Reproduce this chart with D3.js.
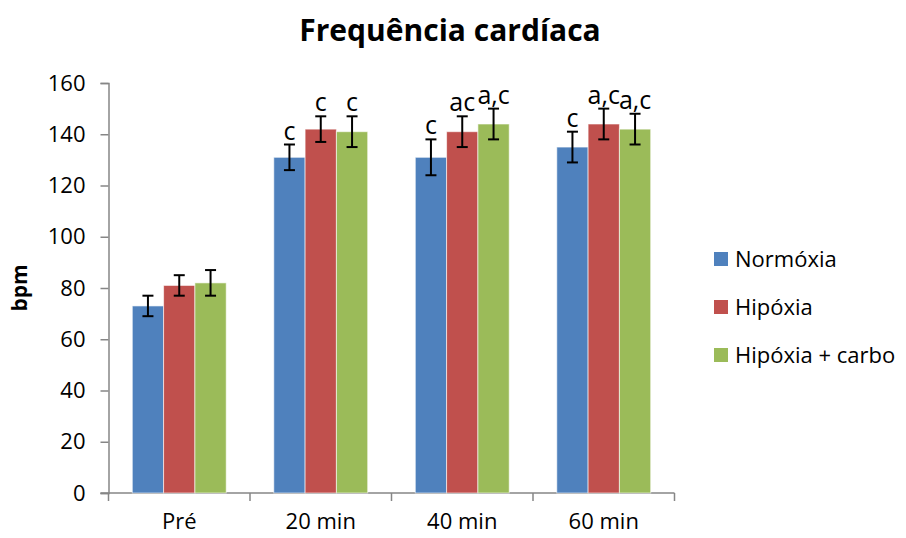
<!DOCTYPE html>
<html>
<head>
<meta charset="utf-8">
<script src="https://cdn.jsdelivr.net/npm/d3@7"></script>
<style>
  body { margin: 0; background: #fff; }
  text { font-family: "Open Sans", sans-serif; fill: #000; }
</style>
</head>
<body>
<div id="chart"></div>
<script>
// Chart data.
const categories = ['Pré', '20 min', '40 min', '60 min'];
const seriesNames = ['Normóxia', 'Hipóxia', 'Hipóxia + carbo'];
const normoxia = [73, 131, 131, 135];
const hipoxia = [81, 142, 141, 144];
const hipoxiaCarbo = [82, 141, 144, 142];
const normoxiaErr = [4, 5, 7, 6];
const hipoxiaErr = [4, 5, 6, 6];
const hipoxiaCarboErr = [5, 6, 6, 6];
const normoxiaMarks = ['', 'c', 'c', 'c'];
const hipoxiaMarks = ['', 'c', 'ac', 'a,c'];
const hipoxiaCarboMarks = ['', 'c', 'a,c', 'a,c'];
const yTicks = [0, 20, 40, 60, 80, 100, 120, 140, 160];
const colors = ['#4F81BD', '#C0504D', '#9BBB59'];

const width = 906, height = 538;
const plot = {left: 108.5, right: 674.5, top: 83, bottom: 493};

const values = [normoxia, hipoxia, hipoxiaCarbo];
const errors = [normoxiaErr, hipoxiaErr, hipoxiaCarboErr];
const marks = [normoxiaMarks, hipoxiaMarks, hipoxiaCarboMarks];

const svg = d3.select('#chart').append('svg')
    .attr('width', width)
    .attr('height', height);

// Scales.
const x = d3.scaleBand()
    .domain(categories)
    .range([plot.left, plot.right]);
const xInner = d3.scaleBand()
    .domain(d3.range(seriesNames.length))
    .range([0, x.bandwidth()])
    .paddingOuter(0.76);
const y = d3.scaleLinear()
    .domain([0, 160])
    .range([plot.bottom, plot.top]);

// Title.
svg.append('text')
    .attr('x', 450)
    .attr('y', 41)
    .attr('text-anchor', 'middle')
    .style('font-size', '30px')
    .style('font-weight', 'bold')
    .text('Frequência cardíaca');

// Y axis.
const yAxis = svg.append('g')
    .attr('transform', 'translate(' + plot.left + ',0)')
    .call(d3.axisLeft(y).tickValues(yTicks).tickSize(8).tickPadding(15));
yAxis.selectAll('text').style('font-size', '22px');

// X axis.
const xAxis = svg.append('g')
    .attr('transform', 'translate(0,' + plot.bottom + ')')
    .call(d3.axisBottom(x).tickSize(0).tickPadding(20));
xAxis.selectAll('text').style('font-size', '22px');
xAxis.selectAll('.tick-mark')
    .data(d3.range(categories.length + 1))
    .enter()
    .append('line')
    .attr('x1', function (i) {return plot.left + i * x.step();})
    .attr('x2', function (i) {return plot.left + i * x.step();})
    .attr('y1', 0)
    .attr('y2', 8);
xAxis.select('.domain').attr('d', 'M' + (plot.left - 8) + ',0H' + plot.right);
svg.selectAll('.domain, .tick line, g line').attr('stroke', '#868686').attr('stroke-width', 1.5);

// Y axis title.
svg.append('text')
    .attr('transform', 'translate(27,288)rotate(-90)')
    .attr('text-anchor', 'middle')
    .style('font-size', '21px')
    .style('font-weight', 'bold')
    .text('bpm');

// Bars, error bars and labels for each series.
values.forEach(function (series, s) {
    const g = svg.append('g');
    g.selectAll('rect')
        .data(series)
        .enter()
        .append('rect')
        .attr('x', function (d, i) {return x(categories[i]) + xInner(s);})
        .attr('y', function (d) {return y(d);})
        .attr('width', xInner.bandwidth())
        .attr('height', function (d) {return y(0) - y(d);})
        .attr('fill', colors[s])
        .attr('stroke', '#ffffff')
        .attr('stroke-opacity', 0.6)
        .attr('stroke-width', 1);

    const cx = function (i) {return x(categories[i]) + xInner(s) + xInner.bandwidth() / 2;};
    const err = g.selectAll('.err')
        .data(series)
        .enter()
        .append('g')
        .attr('stroke', '#000')
        .attr('stroke-width', 2);
    err.append('line')
        .attr('x1', function (d, i) {return cx(i);})
        .attr('x2', function (d, i) {return cx(i);})
        .attr('y1', function (d, i) {return y(d + errors[s][i]);})
        .attr('y2', function (d, i) {return y(d - errors[s][i]);});
    [1, -1].forEach(function (sign) {
        err.append('line')
            .attr('x1', function (d, i) {return cx(i) - 5.5;})
            .attr('x2', function (d, i) {return cx(i) + 5.5;})
            .attr('y1', function (d, i) {return y(d + sign * errors[s][i]);})
            .attr('y2', function (d, i) {return y(d + sign * errors[s][i]);});
    });

    g.selectAll('.mark')
        .data(series)
        .enter()
        .append('text')
        .attr('x', function (d, i) {return cx(i);})
        .attr('y', function (d, i) {return y(d + errors[s][i]) - 5;})
        .attr('text-anchor', 'middle')
        .style('font-size', '25px')
        .text(function (d, i) {return marks[s][i];});
});

// Legend.
const legend = svg.append('g')
    .attr('transform', 'translate(714,0)');
const legendY = [259, 307, 355];
seriesNames.forEach(function (name, s) {
    legend.append('rect')
        .attr('x', 0)
        .attr('y', legendY[s] - 7)
        .attr('width', 14)
        .attr('height', 14)
        .attr('fill', colors[s]);
    legend.append('text')
        .attr('x', 21)
        .attr('y', legendY[s])
        .attr('dy', '0.35em')
        .style('font-size', '22px')
        .text(name);
});
</script>
</body>
</html>
